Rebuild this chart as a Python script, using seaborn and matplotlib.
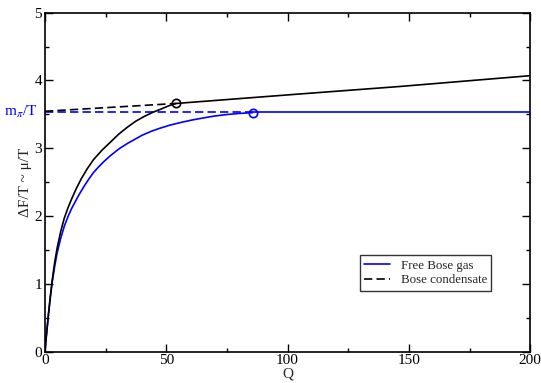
import numpy as np
import pandas as pd
import matplotlib
matplotlib.use("Agg")
import matplotlib.pyplot as plt
from matplotlib.ticker import MultipleLocator
from matplotlib.lines import Line2D
import seaborn as sns

# ---- data ----
m_pi_T = 3.53

# Free Bose gas (blue), below condensation point
blue_q = [0, 0.7, 1.5, 2.2, 3, 4, 5, 6.5, 8, 9.5, 11, 12.5, 14, 16, 18, 20, 22, 24.5, 27, 30.5, 34, 37, 40, 43.5, 47, 51.5, 56, 60.5, 65, 70, 75, 80, 85.6]
blue_v = [0, 0.27, 0.56, 0.79, 1.02, 1.25, 1.45, 1.67, 1.85, 1.99, 2.11, 2.21, 2.31, 2.43, 2.54, 2.64, 2.72, 2.81, 2.89, 2.99, 3.07, 3.13, 3.19, 3.245, 3.29, 3.34, 3.38, 3.415, 3.445, 3.475, 3.497, 3.513, 3.525]
blue_flat_q = [85.6, 200]
blue_flat_v = [m_pi_T, m_pi_T]
blue_dash_q = [0, 85.6]
blue_dash_v = [m_pi_T, m_pi_T]
blue_pt = (85.6, 3.525)

# Bose condensate (black)
black_q = [0, 0.7, 1.5, 2.2, 3, 4, 5, 6.5, 8, 9.5, 11, 13, 15, 17.5, 20, 23.5, 27, 30.5, 34, 37.5, 41, 44.5, 48, 51, 54]
black_v = [0, 0.27, 0.56, 0.80, 1.05, 1.31, 1.52, 1.77, 1.97, 2.12, 2.25, 2.41, 2.55, 2.70, 2.83, 2.97, 3.09, 3.21, 3.31, 3.40, 3.47, 3.53, 3.58, 3.625, 3.66]
black_lin_q = [54, 105, 146, 200]
black_lin_v = [3.66, 3.80, 3.91, 4.07]
black_dash_q = [0, 54]
black_dash_v = [3.545, 3.66]
black_pt = (54, 3.66)

sns.set_theme(style="ticks")
plt.rcParams["font.family"] = ["Liberation Serif", "DejaVu Serif"]
plt.rcParams["mathtext.fontset"] = "stix"

fig = plt.figure(figsize=(5.41, 3.83), dpi=100)
ax = fig.add_axes([0.083, 0.082, 0.897, 0.885])

lw = 1.2
dash = (5, 2.5)

def line(q, v, color, dashed=False):
    df = pd.DataFrame({"Q": q, "v": v})
    sns.lineplot(data=df, x="Q", y="v", ax=ax, color=color, lw=lw, sort=False,
                 estimator=None, linestyle="--" if dashed else "-",
                 dashes=False)
    l = ax.lines[-1]
    if dashed:
        l.set_dashes(dash)

line(blue_dash_q, blue_dash_v, "#0000ff", dashed=True)
line(black_dash_q, black_dash_v, "black", dashed=True)
line(blue_q, blue_v, "#0000ff")
line(blue_flat_q, blue_flat_v, "#0000ff")
line(black_q, black_v, "black")
line(black_lin_q, black_lin_v, "black")

ax.plot([blue_pt[0]], [blue_pt[1]], marker="o", ms=6, mfc="none", mec="#0000ff", mew=1.2)
ax.plot([black_pt[0]], [black_pt[1]], marker="o", ms=6, mfc="none", mec="black", mew=1.2)

ax.set_xlim(0, 200)
ax.set_ylim(0, 5)
ax.xaxis.set_major_locator(MultipleLocator(50))
ax.xaxis.set_minor_locator(MultipleLocator(25))
ax.yaxis.set_major_locator(MultipleLocator(1))
ax.yaxis.set_minor_locator(MultipleLocator(0.5))
ax.tick_params(which="both", direction="in", top=True, right=True, labelsize=11, pad=2, colors="black")
ax.tick_params(which="major", length=6, width=1)
ax.tick_params(which="minor", length=3, width=1)
for s in ax.spines.values():
    s.set_linewidth(1.2)
    s.set_color("black")

ax.set_xlabel("Q", fontsize=11, labelpad=0)
ax.set_ylabel("ΔF/T ~ μ/T", fontsize=11, labelpad=2)

ax.text(-0.015, m_pi_T, r"m$_\pi$/T", color="#0000ff", fontsize=11,
        transform=ax.get_yaxis_transform(), ha="right", va="center")

handles = [Line2D([0], [0], color="#0000ff", lw=lw),
           Line2D([0], [0], color="black", lw=lw, dashes=dash)]
leg = ax.legend(handles, ["Free Bose gas", "Bose condensate"], loc="upper left",
                bbox_to_anchor=(0.649, 0.285), fontsize=9.3, frameon=True, fancybox=False,
                handlelength=2.0, borderpad=0.35, labelspacing=0.2, handletextpad=0.8,
                borderaxespad=0)
leg.get_frame().set_edgecolor("black")
leg.get_frame().set_linewidth(1.0)

fig.savefig("out.png", dpi=100)
